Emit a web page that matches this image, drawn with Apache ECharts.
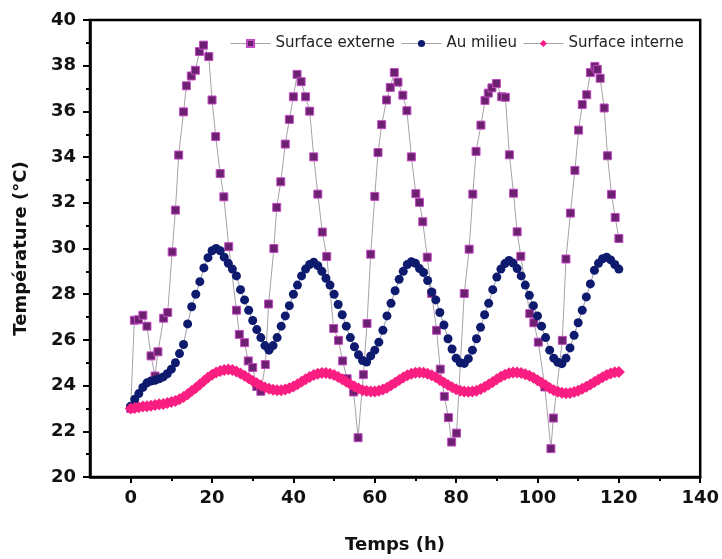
<!DOCTYPE html>
<html>
<head>
<meta charset="utf-8">
<script src="https://cdn.jsdelivr.net/npm/echarts@6/dist/echarts.min.js"></script>
<style>html,body{margin:0;padding:0;background:#fff}#c{width:722px;height:559px}</style>
</head>
<body>
<div id="c"></div>
<script>
// ---- Data ----
const seriesNames = ['Surface externe', 'Au milieu', 'Surface interne'];
const xTickLabels = [0, 20, 40, 60, 80, 100, 120, 140];
const xMinorTicks = [10, 30, 50, 70, 90, 110, 130];

const externeHours = [0,0.9,1.9,3.0,4.0,5.0,6.0,6.7,8.1,9.1,10.2,11.0,11.8,13.0,13.7,14.9,15.9,16.9,17.9,19.2,20.0,20.9,22.0,22.9,24.1,26.0,26.7,28.0,28.9,30.0,31.0,32.0,33.1,33.9,35.2,35.9,36.9,38.0,39.0,40.0,40.9,41.9,43.0,44.0,45.0,46.0,47.1,48.2,49.9,51.1,52.1,53.2,54.8,55.9,57.2,58.1,59.0,60.0,60.8,61.7,62.9,63.8,64.8,65.7,66.9,67.9,69.0,70.1,71.0,71.8,72.9,74.0,75.2,76.1,77.1,78.1,78.9,80.1,82.0,83.2,84.1,84.9,86.1,87.1,87.9,88.8,89.9,91.2,92.1,93.1,94.1,95.0,95.9,98.1,99.1,100.2,101.8,103.3,103.9,106.1,107.0,108.1,109.2,110.1,111.0,112.1,113.0,114.1,114.7,115.4,116.4,117.2,118.2,119.1,120.0];
const externeTemps = [23.0,26.86,26.88,27.08,26.6,25.3,24.42,25.48,26.95,27.2,29.85,31.68,34.09,35.98,37.12,37.55,37.8,38.62,38.9,38.4,36.5,34.9,33.28,32.26,30.08,27.3,26.24,25.88,25.08,24.79,23.96,23.75,24.92,27.57,30.0,31.8,32.92,34.57,35.65,36.64,37.62,37.3,36.64,36.01,34.01,32.38,30.72,29.65,26.5,25.98,25.08,24.3,23.72,21.72,24.48,26.72,29.75,32.28,34.2,35.42,36.5,37.05,37.7,37.28,36.71,36.03,34.01,32.4,32.02,31.17,29.62,28.03,26.42,24.72,23.53,22.6,21.53,21.92,28.03,29.97,32.38,34.25,35.4,36.48,36.8,37.03,37.22,36.64,36.62,34.1,32.42,30.73,29.66,27.15,26.75,25.9,23.94,21.24,22.58,25.98,29.54,31.55,33.42,35.18,36.3,36.73,37.7,37.97,37.84,37.45,36.15,34.06,32.37,31.36,30.44];

const hours = [0,1,2,3,4,5,6,7,8,9,10,11,12,13,14,15,16,17,18,19,20,21,22,23,24,25,26,27,28,29,30,31,32,33,34,35,36,37,38,39,40,41,42,43,44,45,46,47,48,49,50,51,52,53,54,55,56,57,58,59,60,61,62,63,64,65,66,67,68,69,70,71,72,73,74,75,76,77,78,79,80,81,82,83,84,85,86,87,88,89,90,91,92,93,94,95,96,97,98,99,100,101,102,103,104,105,106,107,108,109,110,111,112,113,114,115,116,117,118,119,120];

const milieuTemps = [23.1,23.4,23.65,23.92,24.12,24.2,24.23,24.3,24.38,24.52,24.72,25.0,25.4,25.8,26.7,27.45,28.0,28.55,29.15,29.6,29.9,30.0,29.9,29.62,29.35,29.1,28.8,28.2,27.75,27.3,26.85,26.45,26.1,25.75,25.55,25.75,26.1,26.6,27.05,27.5,28.0,28.4,28.8,29.1,29.3,29.4,29.25,29.0,28.7,28.4,28.0,27.55,27.1,26.6,26.1,25.7,25.35,25.1,25.03,25.3,25.55,25.9,26.42,27.05,27.6,28.15,28.65,29.0,29.3,29.42,29.35,29.12,28.95,28.6,28.1,27.75,27.2,26.65,26.05,25.6,25.2,25.0,24.97,25.18,25.55,26.05,26.55,27.1,27.6,28.2,28.75,29.1,29.34,29.48,29.36,29.12,28.8,28.4,27.95,27.5,27.05,26.6,26.1,25.55,25.2,25.02,24.96,25.2,25.65,26.2,26.75,27.3,27.88,28.45,29.05,29.35,29.55,29.62,29.5,29.3,29.1];

const interneTemps = [23.0,23.02,23.05,23.08,23.1,23.12,23.15,23.18,23.2,23.24,23.28,23.33,23.4,23.5,23.62,23.76,23.9,24.05,24.2,24.35,24.47,24.57,24.64,24.68,24.7,24.68,24.62,24.53,24.43,24.32,24.2,24.1,24.0,23.92,23.86,23.82,23.8,23.8,23.83,23.88,23.96,24.06,24.17,24.28,24.38,24.46,24.52,24.55,24.55,24.52,24.46,24.38,24.28,24.17,24.06,23.96,23.87,23.8,23.76,23.74,23.74,23.77,23.83,23.91,24.01,24.12,24.24,24.35,24.45,24.52,24.56,24.57,24.56,24.52,24.45,24.36,24.25,24.14,24.03,23.93,23.84,23.78,23.74,23.73,23.74,23.78,23.85,23.94,24.05,24.16,24.28,24.39,24.48,24.54,24.57,24.57,24.55,24.5,24.43,24.34,24.23,24.12,24.01,23.9,23.8,23.73,23.69,23.67,23.68,23.72,23.78,23.86,23.95,24.05,24.16,24.27,24.37,24.46,24.53,24.58,24.6];

// ---- Chart ----
const FONT = 'DejaVu Sans';
const LEGEND_LINE = {color: '#a9a0a9', width: 1};
const chart = echarts.init(document.getElementById('c'), null, {renderer: 'canvas'});
const pair = (xs, ys) => xs.map((x, i) => [x, ys[i]]);

chart.setOption({
  animation: false,
  backgroundColor: '#fff',
  grid: {left: 90, right: 21, top: 20, bottom: 82, show: true, borderColor: '#000', borderWidth: 2.5, backgroundColor: 'transparent'},
  legend: {
    left: 225, top: 31, itemWidth: 40, itemHeight: 9, itemGap: 6,
    textStyle: {fontFamily: FONT, fontSize: 15, color: '#222'},
    data: seriesNames.map(n => ({name: n, lineStyle: LEGEND_LINE}))
  },
  xAxis: [{
    type: 'value', min: -10, max: 140,
    name: 'Temps (h)', nameLocation: 'middle', nameGap: 59,
    nameTextStyle: {fontFamily: FONT, fontWeight: 'bold', fontSize: 18, color: '#111'},
    axisLine: {show: true, onZero: false, lineStyle: {color: '#000', width: 2.5}},
    axisTick: {show: true, length: 6, customValues: xTickLabels, lineStyle: {color: '#000', width: 2}},
    axisLabel: {customValues: xTickLabels, fontFamily: FONT, fontWeight: 'bold', fontSize: 18, color: '#111', margin: 12},
    splitLine: {show: false}
  }, {
    type: 'value', min: -10, max: 140, position: 'bottom',
    axisLine: {show: false},
    axisTick: {show: true, length: 4, customValues: xMinorTicks, lineStyle: {color: '#000', width: 2}},
    axisLabel: {show: false},
    splitLine: {show: false}
  }],
  yAxis: {
    type: 'value', min: 20, max: 40, interval: 2,
    name: 'Température (°C)', nameLocation: 'middle', nameGap: 60,
    nameTextStyle: {fontFamily: FONT, fontWeight: 'bold', fontSize: 18, color: '#111'},
    axisLine: {show: true, onZero: false, lineStyle: {color: '#000', width: 2.5}},
    axisTick: {show: true, length: 7, lineStyle: {color: '#000', width: 2}},
    minorTick: {show: true, splitNumber: 2, length: 4, lineStyle: {color: '#000', width: 2}},
    axisLabel: {fontFamily: FONT, fontWeight: 'bold', fontSize: 18, color: '#111', margin: 14},
    splitLine: {show: false}
  },
  series: [{
    name: seriesNames[0], type: 'line', xAxisIndex: 0,
    data: pair(externeHours, externeTemps),
    symbol: 'rect', symbolSize: 8,
    itemStyle: {color: '#6b2070', borderColor: '#c24cc2', borderWidth: 1},
    lineStyle: {color: '#a9a0a9', width: 1}
  }, {
    name: seriesNames[1], type: 'line', xAxisIndex: 0,
    data: pair(hours, milieuTemps),
    symbol: 'circle', symbolSize: 9,
    itemStyle: {color: '#0d1a6e'},
    lineStyle: {color: '#9a9aaa', width: 1}
  }, {
    name: seriesNames[2], type: 'line', xAxisIndex: 0,
    data: pair(hours, interneTemps),
    symbol: 'diamond', symbolSize: 12,
    itemStyle: {color: '#fa1e82'},
    lineStyle: {color: '#fa1e82', width: 4}
  }]
});
</script>
</body>
</html>
